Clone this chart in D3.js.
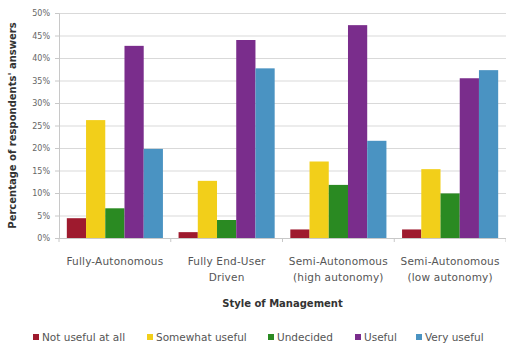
<!DOCTYPE html>
<html><head><meta charset="utf-8">
<script src="https://cdn.jsdelivr.net/npm/d3@7"></script>
<style>body{margin:0;background:#fff}svg{display:block}text{font-family:"DejaVu Sans",sans-serif}</style>
</head><body><svg id="c" width="506" height="345"></svg>
<script>
const categories = [["Fully-Autonomous"],["Fully End-User","Driven"],["Semi-Autonomous","(high autonomy)"],["Semi-Autonomous","(low autonomy)"]];
const seriesNames = ["Not useful at all","Somewhat useful","Undecided","Useful","Very useful"];
const seriesColors = ["#9e1a2e","#f2cf1a","#2a8a22","#7a2d8c","#4a93c2"];
const notUseful = [4.4, 1.3, 1.9, 1.9];
const somewhatUseful = [26.2, 12.7, 17.0, 15.3];
const undecided = [6.6, 4.0, 11.8, 9.9];
const useful = [42.7, 44.0, 47.3, 35.5];
const veryUseful = [19.8, 37.7, 21.6, 37.3];
const yTicks = [0,5,10,15,20,25,30,35,40,45,50];
const series = [notUseful, somewhatUseful, undecided, useful, veryUseful];

const svg = d3.select("#c");
const m = {l:59, r:506, t:13, b:238};
const x0 = d3.scaleBand().domain(d3.range(categories.length)).range([m.l, m.r]).paddingInner(0.14).paddingOuter(0.07);
const x1 = d3.scaleBand().domain(d3.range(series.length)).range([0, x0.bandwidth()]);
const y = d3.scaleLinear().domain([0,50]).range([m.b, m.t]);

// gridlines
svg.append("g").selectAll("line").data(yTicks).join("line")
  .attr("x1", m.l).attr("x2", m.r).attr("y1", d=>y(d)+0.5).attr("y2", d=>y(d)+0.5)
  .attr("stroke", "#d9d9d9").attr("stroke-width", 1);

// y axis
const ya = svg.append("g").attr("transform", `translate(${m.l},0)`)
  .call(d3.axisLeft(y).tickValues(yTicks).tickFormat(d=>d+"%").tickSize(4).tickPadding(5));
ya.select(".domain").attr("stroke","#c8c8c8");
ya.selectAll(".tick line").attr("stroke","#c8c8c8");
ya.selectAll(".tick text").attr("fill","#666").style("font-size","8px").style("font-family","DejaVu Sans, sans-serif");

// bars
const g = svg.append("g");
series.forEach((s, si) => {
  g.selectAll(null).data(s).join("rect")
    .attr("x", (d,i)=>x0(i)+x1(si))
    .attr("width", x1.bandwidth())
    .attr("y", d=>y(d))
    .attr("height", d=>y(0)-y(d))
    .attr("fill", seriesColors[si]);
});

// x axis line
svg.append("line").attr("x1", m.l).attr("x2", m.r).attr("y1", m.b+0.5).attr("y2", m.b+0.5).attr("stroke","#c8c8c8");
d3.range(categories.length+1).forEach(i=>{
  const xx = m.l + i*(m.r-m.l)/categories.length;
  svg.append("line").attr("x1",xx).attr("x2",xx).attr("y1",m.b).attr("y2",m.b+4).attr("stroke","#c8c8c8");
});

// category labels
categories.forEach((lines,i)=>{
  const cx = x0(i)+x0.bandwidth()/2;
  const t = svg.append("text").attr("x", cx).attr("y", 265)
    .attr("text-anchor","middle").attr("fill","#555").style("font-size","10.5px").style("letter-spacing","0.2px");
  lines.forEach((ln,j)=>t.append("tspan").attr("x", cx).attr("dy", j?"16":"0").text(ln));
});

// axis titles
svg.append("text").attr("x", (m.l+m.r)/2).attr("y", 307).attr("text-anchor","middle")
  .attr("fill","#333").style("font-size","10px").style("font-weight","bold").text("Style of Management");
svg.append("text").attr("transform", `translate(16,${(m.t+m.b)/2}) rotate(-90)`).attr("text-anchor","middle")
  .attr("fill","#333").style("font-size","10px").style("font-weight","bold").text("Percentage of respondents' answers");

// legend
const legX = [33, 147, 268, 355, 416];
const lg = svg.append("g");
seriesNames.forEach((n,i)=>{
  lg.append("rect").attr("x", legX[i]).attr("y", 334).attr("width",6).attr("height",6).attr("fill", seriesColors[i]);
  lg.append("text").attr("x", legX[i]+9).attr("y", 341).attr("fill","#555").style("font-size","10.5px").text(n);
});
</script></body></html>
